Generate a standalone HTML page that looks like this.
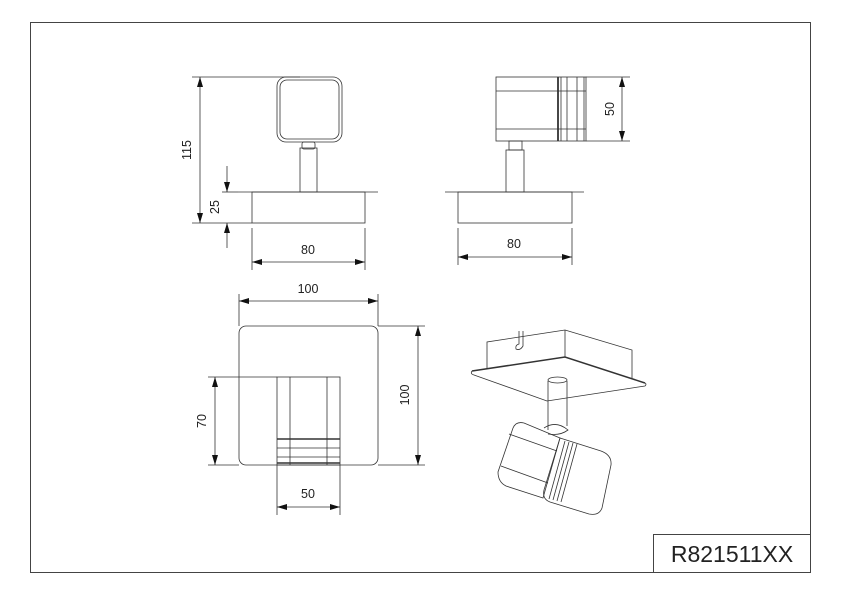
<!DOCTYPE html>
<html><head><meta charset="utf-8"><style>
html,body{margin:0;padding:0;background:#fff;}
svg{display:block;}
text{font-family:"Liberation Sans",Arial,sans-serif;fill:#222;}
</style></head><body>
<svg width="842" height="595" viewBox="0 0 842 595" xmlns="http://www.w3.org/2000/svg">
<defs>
<marker id="a" viewBox="0 0 10 6" refX="10" refY="3" markerWidth="10" markerHeight="6" orient="auto-start-reverse" markerUnits="userSpaceOnUse">
<path d="M0,0 L10,3 L0,6 Z" fill="#111"/></marker>
</defs>
<rect x="30.5" y="22.5" width="780" height="550" fill="none" stroke="#444" stroke-width="1"/>
<rect x="653.5" y="534.5" width="157" height="38" fill="none" stroke="#444" stroke-width="1"/>
<text x="732" y="562" font-size="23" text-anchor="middle">R821511XX</text>

<g stroke="#333" stroke-width="0.8" fill="none">
<!-- Front view -->
<rect x="277" y="77" width="65" height="65" rx="9"/>
<rect x="280" y="80" width="59" height="59" rx="7"/>
<rect x="302" y="142" width="13" height="7" rx="2"/>
<rect x="300" y="148" width="17" height="44"/>
<line x1="238" y1="192" x2="378" y2="192"/>
<rect x="252" y="192" width="113" height="31"/>
<line x1="192" y1="77" x2="300" y2="77"/>
<line x1="192" y1="223" x2="252" y2="223"/>
<line x1="200" y1="77" x2="200" y2="223" marker-start="url(#a)" marker-end="url(#a)"/>
<line x1="222" y1="192" x2="238" y2="192"/>
<line x1="227" y1="166" x2="227" y2="192" marker-end="url(#a)"/>
<line x1="227" y1="248" x2="227" y2="223" marker-end="url(#a)"/>
<line x1="252" y1="228" x2="252" y2="270"/>
<line x1="365" y1="228" x2="365" y2="270"/>
<line x1="252" y1="262" x2="365" y2="262" marker-start="url(#a)" marker-end="url(#a)"/>

<!-- Side view -->
<rect x="496" y="77" width="90" height="64"/>
<line x1="496" y1="91" x2="586" y2="91"/>
<line x1="496" y1="129" x2="586" y2="129"/>
<line x1="558" y1="77" x2="558" y2="141" stroke-width="1.8"/>
<line x1="561" y1="77" x2="561" y2="141"/>
<line x1="567" y1="77" x2="567" y2="141"/>
<line x1="577" y1="77" x2="577" y2="141"/>
<line x1="584" y1="77" x2="584" y2="141"/>
<rect x="509" y="141" width="13" height="9"/>
<rect x="506" y="150" width="18" height="42"/>
<line x1="445" y1="192" x2="584" y2="192"/>
<rect x="458" y="192" width="114" height="31"/>
<line x1="586" y1="77" x2="630" y2="77"/>
<line x1="586" y1="141" x2="630" y2="141"/>
<line x1="622" y1="77" x2="622" y2="141" marker-start="url(#a)" marker-end="url(#a)"/>
<line x1="458" y1="228" x2="458" y2="265"/>
<line x1="572" y1="228" x2="572" y2="265"/>
<line x1="458" y1="257" x2="572" y2="257" marker-start="url(#a)" marker-end="url(#a)"/>

<!-- Top view -->
<rect x="239" y="326" width="139" height="139" rx="7"/>
<rect x="277" y="377" width="63" height="88"/>
<line x1="290" y1="377" x2="290" y2="465"/>
<line x1="327" y1="377" x2="327" y2="465"/>
<line x1="277" y1="439" x2="340" y2="439" stroke-width="1.6"/>
<line x1="277" y1="448" x2="340" y2="448"/>
<line x1="277" y1="457" x2="340" y2="457"/>
<line x1="277" y1="463" x2="340" y2="463" stroke-width="1.4"/>
<line x1="239" y1="294" x2="239" y2="326"/>
<line x1="378" y1="294" x2="378" y2="326"/>
<line x1="239" y1="301" x2="378" y2="301" marker-start="url(#a)" marker-end="url(#a)"/>
<line x1="378" y1="326" x2="425" y2="326"/>
<line x1="378" y1="465" x2="425" y2="465"/>
<line x1="418" y1="326" x2="418" y2="465" marker-start="url(#a)" marker-end="url(#a)"/>
<line x1="208" y1="377" x2="277" y2="377"/>
<line x1="208" y1="465" x2="239" y2="465"/>
<line x1="215" y1="377" x2="215" y2="465" marker-start="url(#a)" marker-end="url(#a)"/>
<line x1="277" y1="465" x2="277" y2="515"/>
<line x1="340" y1="465" x2="340" y2="515"/>
<line x1="277" y1="507" x2="340" y2="507" marker-start="url(#a)" marker-end="url(#a)"/>

<!-- Isometric -->
<path d="M487,368 L487,342 L565,330 L632,350 L632,378"/>
<line x1="565" y1="330" x2="565" y2="357"/>
<path d="M519,331 L519,344 Q515,345 516,349 Q520,351 523,346 L523,331"/>
<path d="M472,371 L565,357 L645,383" stroke-width="1.5"/>
<path d="M472,371 Q470,374 474,375 L547,401 L645,386 Q647,384 645,383"/>
<path d="M548,381 L548,430 M567,381 L567,426"/>
<ellipse cx="557.5" cy="380" rx="9.5" ry="3"/>
<path d="M544,428 Q556,420 568,430 Q560,436 548,434"/>
<path d="M513,428 Q516,421 524,423 L560,438 L543,498 L506,486 Q498,482 498,472 Z"/>
<path d="M509,434 L557,451 M501,466 L548,483"/>
<path d="M560,438 L601,451 Q612,455 611,465 L602,508 Q599,516 589,514 L550,502 Q542,499 544,490 Z"/>
<path d="M565,441 L549,499 M569,442 L553,500 M573,443 L557,501 M577,444 L561,502"/>
</g>

<g font-size="12.5">
<text x="308" y="254" text-anchor="middle">80</text>
<text x="514" y="248" text-anchor="middle">80</text>
<text x="308" y="293" text-anchor="middle">100</text>
<text x="308" y="498" text-anchor="middle">50</text>
<text transform="translate(191,150) rotate(-90)" text-anchor="middle">115</text>
<text transform="translate(219,207) rotate(-90)" text-anchor="middle">25</text>
<text transform="translate(614,109) rotate(-90)" text-anchor="middle">50</text>
<text transform="translate(409,395) rotate(-90)" text-anchor="middle">100</text>
<text transform="translate(206,421) rotate(-90)" text-anchor="middle">70</text>
</g>
</svg>
</body></html>
